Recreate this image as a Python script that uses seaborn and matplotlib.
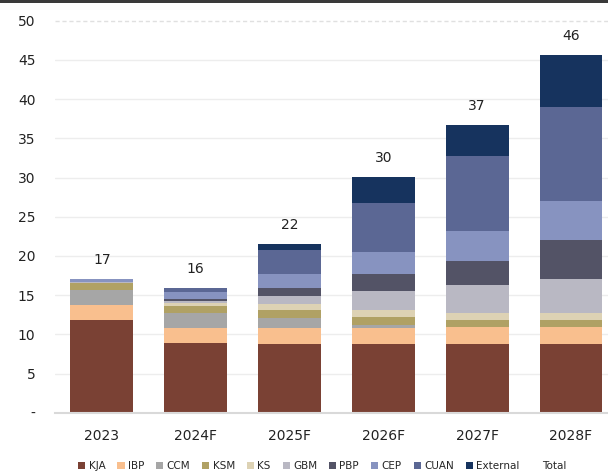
import matplotlib
matplotlib.use("Agg")
import matplotlib.pyplot as plt
from matplotlib.patches import Rectangle, Patch
import numpy as np
import pandas as pd
import seaborn as sns

years = ["2023", "2024F", "2025F", "2026F", "2027F", "2028F"]
segments = ["KJA", "IBP", "CCM", "KSM", "KS", "GBM", "PBP", "CEP", "CUAN", "External"]

kja = [11.8, 8.85, 8.8, 8.8, 8.8, 8.8]
ibp = [1.9, 1.95, 1.95, 1.95, 2.17, 2.17]
ccm = [2.0, 1.95, 1.3, 0.5, 0.0, 0.0]
ksm = [0.85, 0.85, 1.0, 1.0, 0.8, 0.8]
ks = [0.0, 0.43, 0.85, 0.8, 0.98, 0.98]
gbm = [0.12, 0.2, 1.0, 2.5, 3.6, 4.3]
pbp = [0.0, 0.3, 1.0, 2.1, 3.0, 4.97]
cep = [0.33, 0.85, 1.8, 2.8, 3.8, 4.97]
cuan = [0.0, 0.5, 3.1, 6.3, 9.56, 12.0]
external = [0.0, 0.0, 0.7, 3.26, 3.96, 6.6]

colors = ["#7A4134", "#F9BF8E", "#A6A6A6", "#B0A164", "#DDD2B4",
          "#B9B8C3", "#535366", "#8793C0", "#5B6794", "#16335E"]

y_ticks = [0, 5, 10, 15, 20, 25, 30, 35, 40, 45, 50]
y_labels = ["-", "5", "10", "15", "20", "25", "30", "35", "40", "45", "50"]

values = np.array([kja, ibp, ccm, ksm, ks, gbm, pbp, cep, cuan, external])
cum = np.cumsum(values, axis=0)
totals = cum[-1]

df = pd.DataFrame(cum.T, columns=segments)
df["year"] = years

sns.set_style("white")
plt.rcParams["font.family"] = ["DejaVu Sans"]

fig = plt.figure(figsize=(6.08, 4.74), dpi=100)
ax = fig.add_axes([55 / 608, 1 - 412.7 / 474, 1 - 55 / 608, (412.7 - 20.7) / 474])

# stacked bars: draw cumulative layers from the top down
for seg, col in reversed(list(zip(segments, colors))):
    sns.barplot(data=df, x="year", y=seg, color=col, width=0.67,
                saturation=1, ax=ax, edgecolor="none", linewidth=0)

for i, t in enumerate(totals):
    ax.text(i, t + 1.6, f"{int(round(t))}", ha="center", va="bottom",
            fontsize=10, color="#222222")

ax.set_xlim(-0.5, 5.395)
ax.set_ylim(0, 50)
ax.set_yticks(y_ticks)
ax.set_yticklabels(y_labels)
ax.set_xlabel("")
ax.set_ylabel("")
ax.tick_params(axis="both", length=0, labelsize=10, colors="#222222")
ax.tick_params(axis="y", pad=14)
ax.tick_params(axis="x", pad=12)

for y in y_ticks[1:-1]:
    ax.axhline(y, color="#EDEDED", lw=1, zorder=0)
ax.axhline(50, color="#E0E0E0", lw=1, ls=(0, (3, 2)), zorder=0, clip_on=False)

for s in ["top", "right", "left"]:
    ax.spines[s].set_visible(False)
ax.spines["bottom"].set_color("#D9D9D9")
ax.spines["bottom"].set_linewidth(1.5)

handles = [Patch(facecolor=c, edgecolor="none") for c in colors]
handles.append(Patch(facecolor="none", edgecolor="none"))
labels = segments + ["Total"]
fig.legend(handles, labels, loc="center", bbox_to_anchor=(0.53, 0.017),
           ncol=11, frameon=False, fontsize=7.5, handlelength=0.7,
           handleheight=0.7, handletextpad=0.3, columnspacing=1.15)

fig.add_artist(Rectangle((0, 1 - 3 / 474), 1, 3 / 474, transform=fig.transFigure,
                         color="#3A3A3A", lw=0))

fig.savefig("out.png", dpi=100)
